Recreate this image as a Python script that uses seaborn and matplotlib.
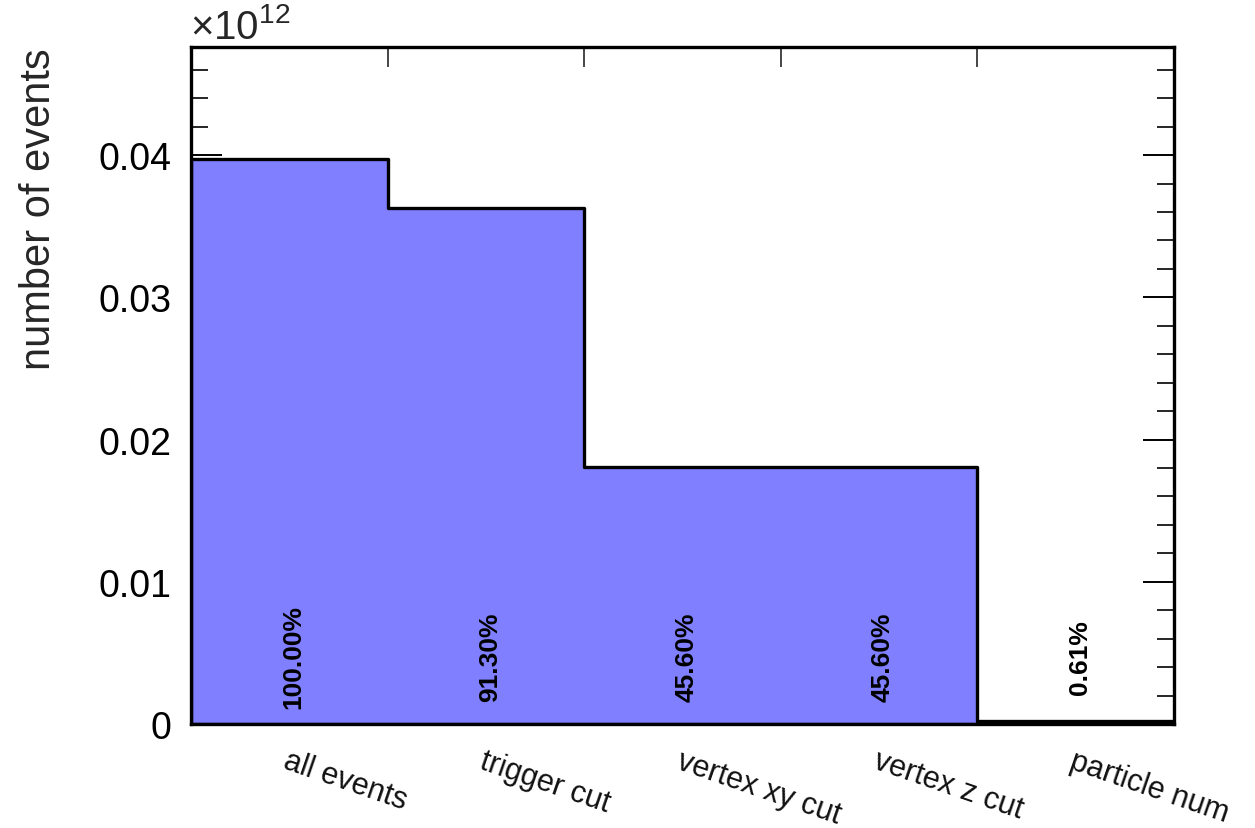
import numpy as np
import pandas as pd
import matplotlib
matplotlib.use("Agg")
import matplotlib.pyplot as plt
import matplotlib.transforms as mtransforms
from matplotlib.ticker import MultipleLocator, FixedLocator, NullFormatter
import seaborn as sns

# Cut-flow: events surviving each selection step
cut_names = ["all events", "trigger cut", "vertex xy cut", "vertex z cut", "particle num"]
event_counts = [3.970e10, 3.625e10, 1.810e10, 1.810e10, 2.42e8]
survival_pct = ["100.00%", "91.30%", "45.60%", "45.60%", "0.61%"]

SCALE = 1e12
fill_color = "#7f7fff"

sns.set_theme(style="white")
plt.rcParams["font.family"] = ["Liberation Sans", "DejaVu Sans"]
plt.rcParams["mathtext.fontset"] = "custom"
plt.rcParams["mathtext.rm"] = "Liberation Sans"
plt.rcParams["mathtext.it"] = "Liberation Sans:italic"

n_bins = len(cut_names)
df = pd.DataFrame({
    "bin": np.arange(n_bins) + 0.5,
    "count": np.array(event_counts) / SCALE,
})

fig = plt.figure(figsize=(12.55, 8.29), dpi=100)
ax = fig.add_axes([191 / 1255, 1 - 725 / 829, (1174 - 191) / 1255, (725 - 48) / 829])

sns.histplot(data=df, x="bin", weights="count", bins=n_bins, binrange=(0, n_bins),
             element="step", fill=True, color=fill_color, alpha=1.0,
             edgecolor="black", linewidth=2.4, ax=ax, legend=False)

ax.set_xlim(0, n_bins)
ax.set_ylim(0, 0.0476)
ax.set_xlabel("")
ax.set_ylabel("")

# frame
for sp in ax.spines.values():
    sp.set_visible(True)
    sp.set_color("black")
    sp.set_linewidth(2.4)
    sp.set_zorder(5)

# y ticks, mirrored on the right
ax.set_yticks([0, 0.01, 0.02, 0.03, 0.04])
ax.set_yticklabels(["0", "0.01", "0.02", "0.03", "0.04"])
ax.yaxis.set_minor_locator(MultipleLocator(0.002))
ax.tick_params(axis="y", which="major", direction="in", length=22, width=1.4,
               labelsize=27, pad=14, left=True, right=True, colors="black")
ax.tick_params(axis="y", which="minor", direction="in", length=12, width=1.4,
               left=True, right=True)

# x ticks at bin boundaries, top and bottom
ax.xaxis.set_major_locator(FixedLocator(np.arange(1, n_bins)))
ax.xaxis.set_major_formatter(NullFormatter())
ax.tick_params(axis="x", which="major", direction="in", length=14.4, width=1.2,
               bottom=True, top=True)

trans = mtransforms.blended_transform_factory(ax.transData, ax.transAxes)

# bin labels
for i, name in enumerate(cut_names):
    ax.text(i + 0.5, -0.032, name, transform=trans, rotation=-19,
            rotation_mode="anchor", ha="left", va="top", fontsize=22,
            color="#111111")

# survival fractions inside the bins
for i, pct in enumerate(survival_pct):
    ax.text(i + 0.52, 0.1, pct, transform=trans, rotation=90,
            ha="center", va="center", fontsize=19, fontweight="bold",
            color="black")

# multiplier and axis title
fig.text(190 / 1255, 1 - 47 / 829, r"$\times10^{12}$", ha="left", va="bottom",
         fontsize=29)
fig.text(39 / 1255, 1 - 48 / 829, "number of events", rotation=90,
         ha="center", va="top", fontsize=30)

fig.savefig("out.png", dpi=100, facecolor="white")
